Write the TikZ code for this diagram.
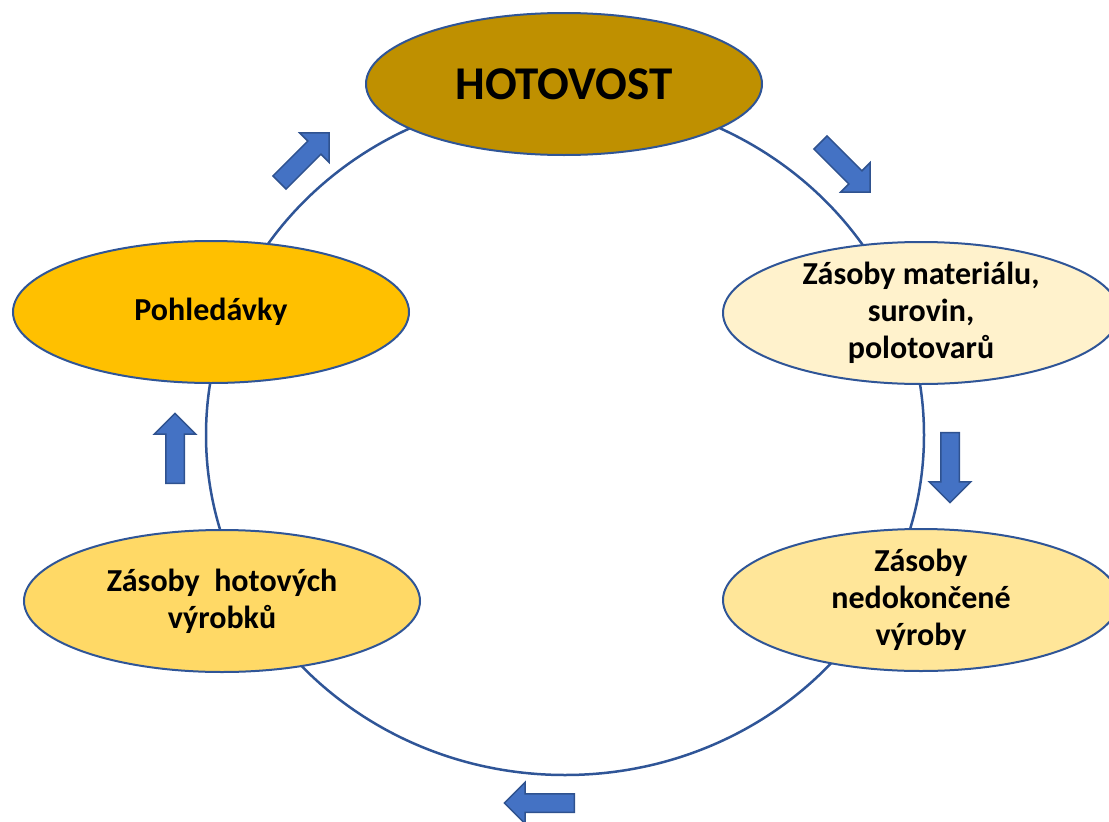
\documentclass[tikz,border=0pt]{standalone}
\usepackage{fontspec}
\setmainfont{Carlito}
\usetikzlibrary{shapes.geometric,shapes.arrows}

\definecolor{rimblue}{HTML}{2F5597}
\definecolor{arrowblue}{HTML}{4472C4}
\definecolor{arrowrim}{HTML}{2F528F}
\definecolor{cashgold}{HTML}{BF9000}
\definecolor{claimgold}{HTML}{FFC000}
\definecolor{stockpale}{HTML}{FFF2CC}
\definecolor{stocklight}{HTML}{FFE699}
\definecolor{stockmid}{HTML}{FFD966}

\begin{document}
\begin{tikzpicture}[x=1pt,y=-1pt,
    oval/.style={ellipse,draw=rimblue,line width=2pt,minimum width=396pt,minimum height=142pt,inner sep=0pt},
    txt/.style={font=\bfseries\fontsize{32}{37}\selectfont,align=center,inner sep=0pt},
    blockarrow/.style={single arrow,draw=arrowrim,fill=arrowblue,line width=1.5pt,minimum height=70pt,single arrow head extend=11.5pt,inner xsep=0pt,inner ysep=8.5pt}]
    \useasboundingbox (0,0) rectangle (1109,822);

    % the cycle
    \node[ellipse,draw=rimblue,line width=2.5pt,minimum width=718pt,minimum height=680pt] (loop) at (565,435) {};

    \node[oval,fill=cashgold] (cash) at (564,84) {};
    \node[oval,fill=claimgold] (claims) at (211,312) {};
    \node[oval,fill=stockpale] (material) at (921,313) {};
    \node[oval,fill=stocklight] (wip) at (921,600) {};
    \node[oval,fill=stockmid] (goods) at (222,601) {};

    \node[txt,font=\bfseries\fontsize{47}{55}\selectfont] (cashtxt) at (cash) {HOTOVOST};
    \node[txt] (claimstxt) at (claims) {Pohledávky};
    \node[txt] (materialtxt) at (material) {Zásoby materiálu,\\surovin,\\polotovarů};
    \node[txt] (wiptxt) at (wip) {Zásoby\\nedokončené\\výroby};
    \node[txt] (goodstxt) at (goods) {Zásoby\ \ hotových\\výrobků};

    % flow arrows
    \node[blockarrow,rotate=-45] (flow1) at (842,164) {};
    \node[blockarrow,rotate=-90] (flow2) at (950,463) {};
    \node[blockarrow,rotate=180] (flow3) at (544,803) {};
    \node[blockarrow,rotate=90] (flow4) at (175,453) {};
    \node[blockarrow,rotate=45] (flow5) at (301,161) {};
\end{tikzpicture}
\end{document}
